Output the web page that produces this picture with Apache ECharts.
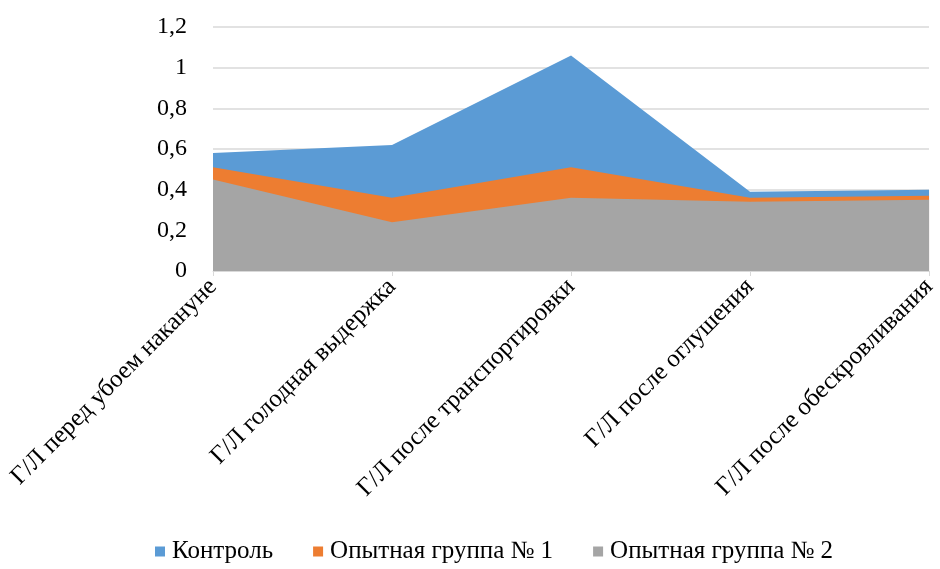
<!DOCTYPE html>
<html><head><meta charset="utf-8">
<script src="https://cdn.jsdelivr.net/npm/echarts@6/dist/echarts.min.js"></script>
<style>html,body{margin:0;padding:0;background:#fff}#c{width:940px;height:569px}</style>
</head><body><div id="c"></div>
<script>
const categories = ["Г/Л перед убоем накануне","Г/Л голодная выдержка","Г/Л после транспортировки","Г/Л после оглушения","Г/Л после обескровливания"];
const control = [0.58, 0.62, 1.06, 0.39, 0.40];
const group1 = [0.51, 0.36, 0.51, 0.36, 0.37];
const group2 = [0.45, 0.24, 0.36, 0.34, 0.35];
const seriesNames = ["Контроль","Опытная группа № 1","Опытная группа № 2"];
const colors = ["#5B9BD5","#ED7D31","#A5A5A5"];
const font = "'Liberation Serif','Times New Roman',serif";
const chart = echarts.init(document.getElementById('c'));
const mk = (name, data, color, z) => ({
  name, type:'line', data, z, symbol:'none', smooth:false,
  lineStyle:{width:0, color}, itemStyle:{color},
  areaStyle:{color, opacity:1}
});
chart.setOption({
  animation:false,
  textStyle:{fontFamily:font},
  grid:{left:213, right:7, top:27, bottom:298},
  legend:{bottom:0, left:150, itemWidth:10, itemHeight:10, itemGap:40, icon:'rect',
    textStyle:{fontFamily:font, fontSize:25, color:'#000', padding:[0,0,0,2]}, data:seriesNames},
  xAxis:{type:'category', data:categories, boundaryGap:false,
    axisLine:{lineStyle:{color:'#d9d9d9'}},
    axisTick:{show:true, lineStyle:{color:'#d9d9d9'}, length:5},
    axisLabel:{rotate:45, fontFamily:font, fontSize:25, color:'#000', margin:12}},
  yAxis:{type:'value', min:0, max:1.2, interval:0.2,
    axisLine:{show:false}, axisTick:{show:false},
    splitLine:{lineStyle:{color:'#d9d9d9', width:1.5}},
    axisLabel:{fontFamily:font, fontSize:24, color:'#000', margin:26,
      formatter:v=>String(Math.round(v*10)/10).replace('.',',')}},
  series:[mk(seriesNames[0], control, colors[0], 1), mk(seriesNames[1], group1, colors[1], 2), mk(seriesNames[2], group2, colors[2], 3)]
});
</script></body></html>
